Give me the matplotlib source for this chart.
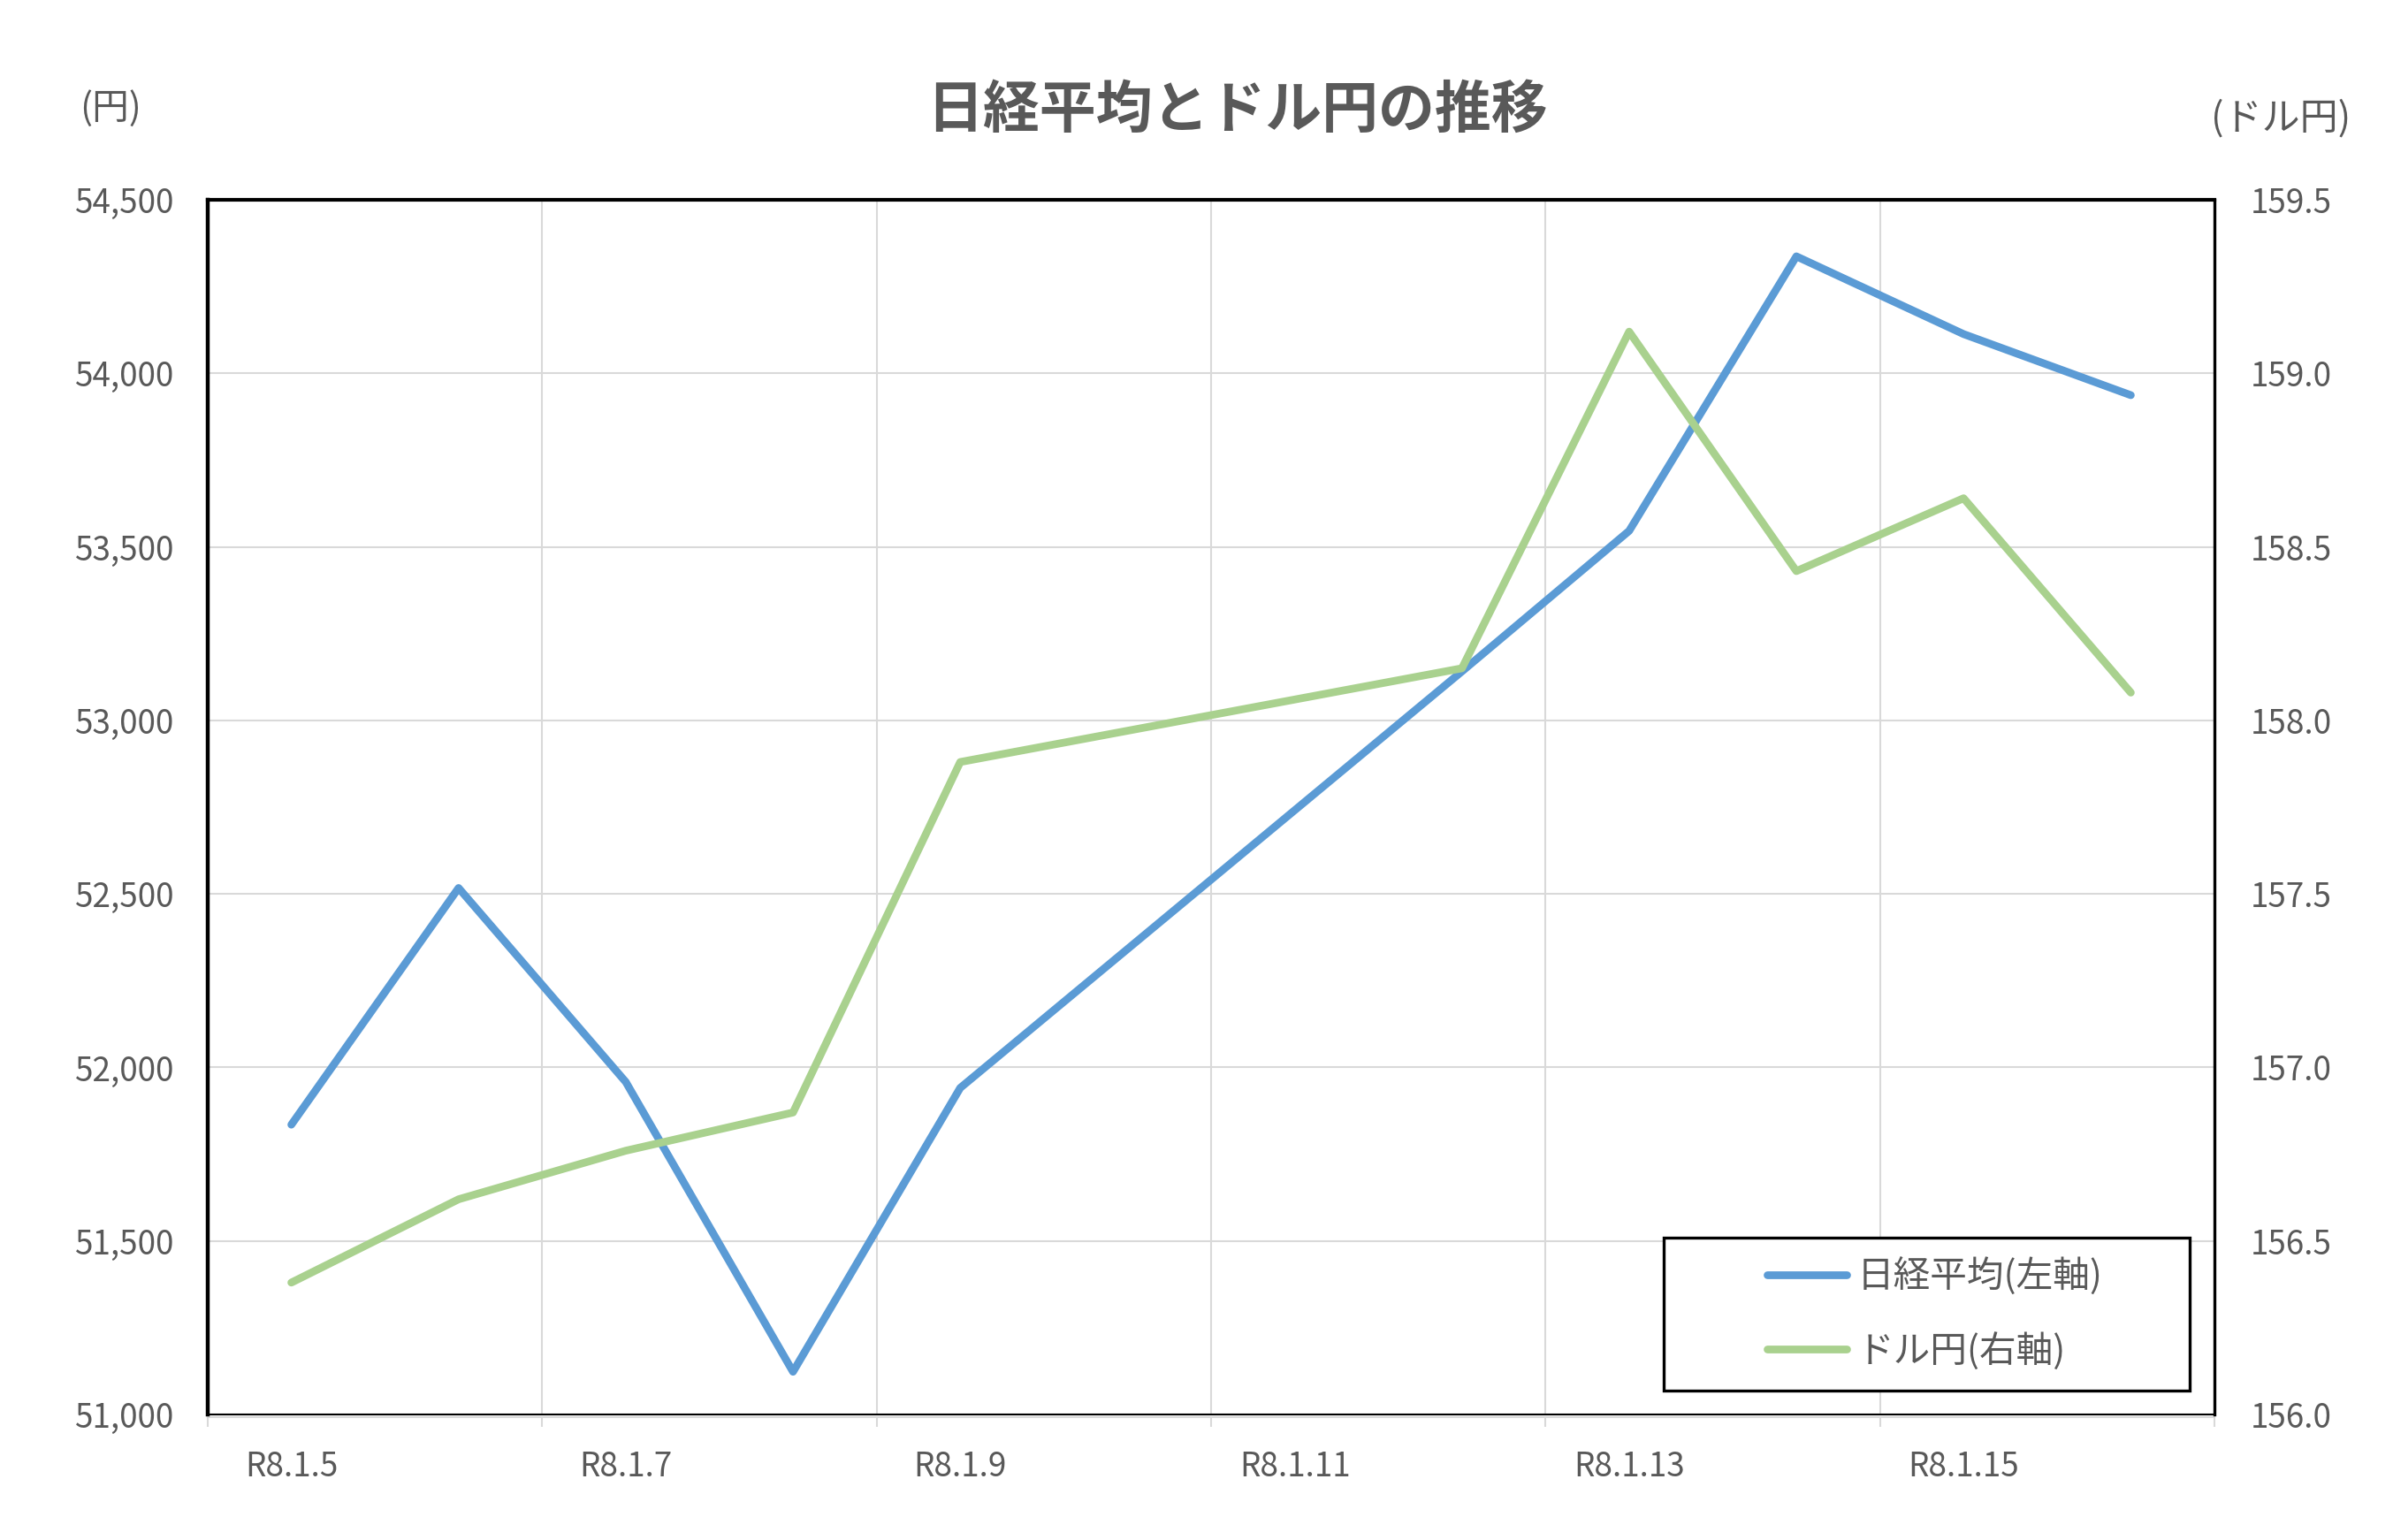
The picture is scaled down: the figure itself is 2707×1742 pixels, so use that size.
import matplotlib
matplotlib.use('Agg')
import matplotlib.pyplot as plt
from matplotlib.ticker import FixedLocator, FuncFormatter
from matplotlib.patches import Rectangle

plt.rcParams['font.family'] = ['Noto Sans CJK JP', 'DejaVu Sans']

# ---- data ----
days = [5, 6, 7, 8, 9, 12, 13, 14, 15, 16]
nikkei = [51835, 52517, 51958, 51123, 51941, 53141, 53546, 54337, 54113, 53937]
usdjpy = [156.38, 156.62, 156.76, 156.87, 157.88, 158.15, 159.12, 158.43, 158.64, 158.08]
label_days = [5, 7, 9, 11, 13, 15]
x_labels = [f"R8.1.{d}" for d in label_days]
left_ticks = [51000, 51500, 52000, 52500, 53000, 53500, 54000, 54500]
right_ticks = [156.0, 156.5, 157.0, 157.5, 158.0, 158.5, 159.0, 159.5]
series_names = ["日経平均(左軸)", "ドル円(右軸)"]
title = "日経平均とドル円の推移"

BLUE = "#5B9BD5"
GREEN = "#A9D18E"
GRID = "#D9D9D9"
TXT = "#595959"

fig = plt.figure(figsize=(27.07, 17.42), dpi=100)
ax = fig.add_axes([0.08681, 0.08152, 0.83857, 0.78875])
ax2 = ax.twinx()

l1, = ax.plot(days, nikkei, color=BLUE, lw=6.3, solid_joinstyle='round',
              solid_capstyle='round', label=series_names[0], zorder=3)
l2, = ax2.plot(days, usdjpy, color=GREEN, lw=6.3, solid_joinstyle='round',
               solid_capstyle='round', label=series_names[1], zorder=3)

ax.set_xlim(4.5, 16.5)
ax.set_ylim(51000, 54500)
ax2.set_ylim(156.0, 159.5)

# x ticks: labels at data days, grid/tick marks at boundaries
ax.xaxis.set_major_locator(FixedLocator(label_days))
ax.set_xticklabels(x_labels)
ax.xaxis.set_minor_locator(FixedLocator([4.5, 6.5, 8.5, 10.5, 12.5, 14.5, 16.5]))
ax.tick_params(axis='x', which='major', length=0, pad=27, labelsize=26.5, labelcolor=TXT)
ax.tick_params(axis='x', which='minor', length=8, width=1.5, color=GRID, direction='out')
ax.grid(True, which='minor', axis='x', color=GRID, lw=1.5, zorder=0)

ax.yaxis.set_major_locator(FixedLocator(left_ticks))
ax.yaxis.set_major_formatter(FuncFormatter(lambda v, p: f"{int(v):,}"))
ax.tick_params(axis='y', length=0, pad=27, labelsize=26.5, labelcolor=TXT)
ax.grid(True, which='major', axis='y', color=GRID, lw=1.5, zorder=0)
ax.set_axisbelow(True)

ax2.yaxis.set_major_locator(FixedLocator(right_ticks))
ax2.yaxis.set_major_formatter(FuncFormatter(lambda v, p: f"{v:.1f}"))
ax2.tick_params(axis='y', length=0, pad=29, labelsize=26.5, labelcolor=TXT)

# spines
for s in ['left', 'top', 'right']:
    ax.spines[s].set_visible(False)
ax.spines['bottom'].set_color(GRID)
ax.spines['bottom'].set_linewidth(1.5)
ax.spines['bottom'].set_position(('outward', 2))
ax2.spines['left'].set_linewidth(3.2)
ax2.spines['top'].set_linewidth(3.0)
ax2.spines['right'].set_linewidth(2.4)
ax2.spines['bottom'].set_linewidth(1.5)
for s in ax2.spines.values():
    s.set_color('black')

# titles
fig.text(0.5168, 0.9285, title, ha='center', va='center', fontsize=46,
         fontweight='bold', color=TXT)
fig.text(0.0332, 0.9295, "(円)", ha='left', va='center', fontsize=30, color=TXT)
fig.text(0.9823, 0.9225, "(ドル円)", ha='right', va='center', fontsize=31, color=TXT)

# legend box
fig.patches.append(Rectangle((1882 / 2707, 1 - 1573 / 1742), (2477 - 1882) / 2707,
                             (1573 - 1400) / 1742, transform=fig.transFigure,
                             fill=True, facecolor='white', edgecolor='black',
                             lw=2.4, zorder=5))
leg = fig.legend(handles=[l1, l2], labels=series_names, loc='center left',
                 bbox_to_anchor=(1999 / 2707, 1 - 1486 / 1742), frameon=False,
                 fontsize=30, handlelength=2.16, handletextpad=0.29,
                 labelspacing=1.0, borderpad=0, borderaxespad=0)
leg.set_zorder(6)
for t in leg.get_texts():
    t.set_color(TXT)

fig.savefig("out.png", dpi=100, facecolor='white')
